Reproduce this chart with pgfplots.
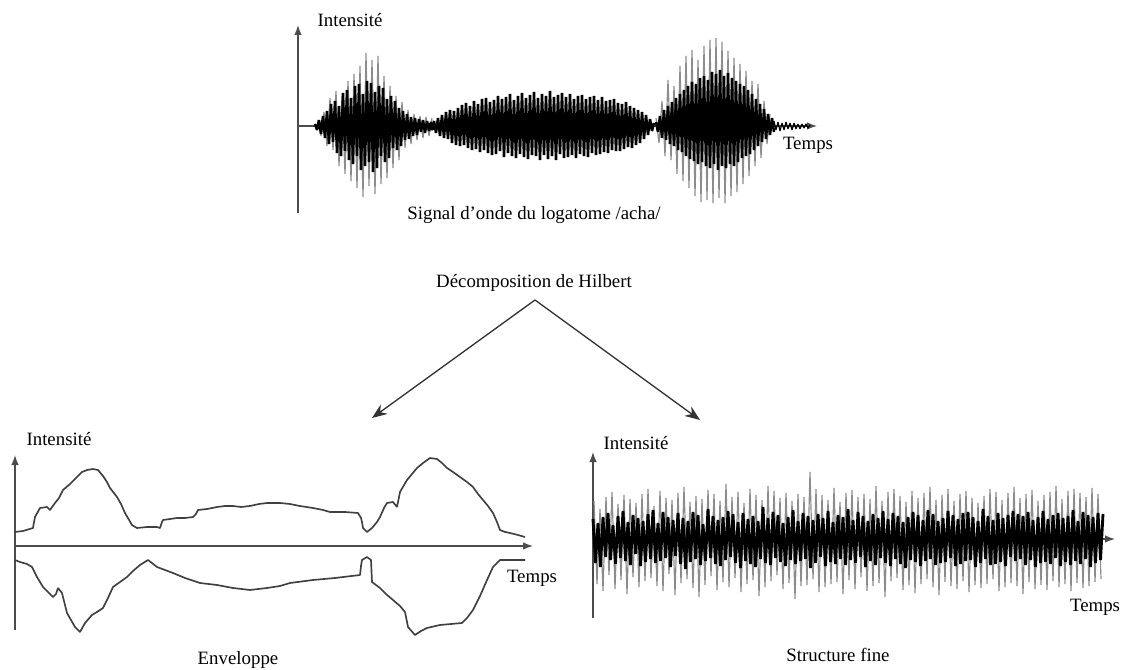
\documentclass[border=0pt]{standalone}
\usepackage{fontspec}
\setmainfont{Liberation Serif}
\usepackage{pgfplots}
\pgfplotsset{compat=1.18}
\usetikzlibrary{arrows.meta}

\pgfplotsset{
  wave/.style={axis lines=middle, x=0.6pt, y=0.6pt, xtick=\empty, ytick=\empty,
    enlargelimits=false, clip=false, anchor=south west,
    axis line style={black!70, line width=0.8pt, -{Latex[length=6pt,width=4.5pt]}}},
  sig/.style={line join=bevel, mark=none},
  grayw/.style={sig, black!45, line width=0.7pt},
  blackw/.style={sig, black, line width=1.5pt},
}

\begin{document}
\begin{tikzpicture}[x=0.6pt, y=0.6pt, font=\fontsize{11.3}{13}\selectfont]
\path[use as bounding box] (0,0) rectangle (1127,670);
\coordinate (P1) at (298,457);
\coordinate (P2) at (15,40);
\coordinate (P3) at (593,52);

% signal d'onde /acha/
\begin{axis}[wave, at={(P1)}, xmin=0, xmax=519, ymin=-87, ymax=101]
% first burst, grey spikes
\addplot[grayw] table[row sep=\\, header=false, x expr={\coordindex*3+20}, y index=0]
{6\\ -10\\ 14\\ -20\\ 28\\ -24\\ 35\\ -40\\ 30\\ -48\\ 45\\ -55\\ 52\\ -62\\ 60\\ -71\\ 73\\ -60\\ 66\\ -68\\ 70\\ -58\\ 50\\ -52\\ 40\\ -42\\ 30\\ -34\\ 24\\ -22\\ 16\\ -18\\ 12\\ -14\\ 10\\ -12\\ 9\\ -10\\ 8\\};
% last burst, grey spikes
\addplot[grayw] table[row sep=\\, header=false, x expr={\coordindex*3+358}, y index=0]
{8\\ -17\\ 25\\ -30\\ 46\\ -34\\ 40\\ -48\\ 60\\ -55\\ 70\\ -62\\ 76\\ -70\\ 66\\ -76\\ 80\\ -74\\ 86\\ -77\\ 88\\ -72\\ 84\\ -77\\ 75\\ -70\\ 68\\ -66\\ 62\\ -58\\ 55\\ -50\\ 45\\ -40\\ 42\\ -32\\ 25\\ -18\\ 12\\};
% first burst, core
\addplot[blackw] table[row sep=\\, header=false, x expr={\coordindex*2+17}, y index=0]
{2\\ -4\\ 6\\ -8\\ 10\\ -12\\ 15\\ -18\\ 22\\ -16\\ 25\\ -27\\ 20\\ -30\\ 33\\ -25\\ 36\\ -34\\ 28\\ -38\\ 40\\ -30\\ 42\\ -44\\ 32\\ -40\\ 45\\ -36\\ 43\\ -46\\ 34\\ -42\\ 40\\ -30\\ 38\\ -36\\ 27\\ -32\\ 30\\ -22\\ 25\\ -24\\ 18\\ -20\\ 15\\ -14\\ 12\\ -13\\ 9\\ -10\\ 8\\ -9\\ 7\\ -6\\ 6\\ -7\\ 5\\ -5\\ 4\\ -4\\};
% /ch/ noise
\addplot[blackw] table[row sep=\\, header=false, x expr={\coordindex*2+132}, y index=0]
{3\\ -4\\ 5\\ -7\\ 8\\ -10\\ 11\\ -12\\ 14\\ -13\\ 16\\ -17\\ 15\\ -19\\ 18\\ -20\\ 21\\ -19\\ 23\\ -22\\ 20\\ -24\\ 25\\ -23\\ 22\\ -26\\ 27\\ -24\\ 28\\ -27\\ 24\\ -29\\ 26\\ -28\\ 30\\ -25\\ 27\\ -31\\ 29\\ -27\\ 32\\ -30\\ 26\\ -32\\ 30\\ -28\\ 33\\ -31\\ 28\\ -33\\ 31\\ -29\\ 34\\ -30\\ 28\\ -34\\ 32\\ -29\\ 30\\ -33\\ 35\\ -30\\ 29\\ -34\\ 31\\ -28\\ 33\\ -32\\ 29\\ -31\\ 32\\ -29\\ 27\\ -32\\ 30\\ -28\\ 31\\ -30\\ 27\\ -31\\ 29\\ -27\\ 30\\ -29\\ 26\\ -28\\ 29\\ -26\\ 25\\ -27\\ 26\\ -24\\ 27\\ -25\\ 23\\ -25\\ 22\\ -23\\ 24\\ -21\\ 20\\ -22\\ 18\\ -19\\ 16\\ -17\\ 14\\ -13\\ 11\\ -9\\ 7\\ -5\\ 3\\};
% last burst, core
\addplot[blackw] table[row sep=\\, header=false, x expr={\coordindex*2+358}, y index=0]
{4\\ -6\\ 10\\ -12\\ 16\\ -14\\ 20\\ -18\\ 24\\ -20\\ 28\\ -24\\ 32\\ -26\\ 36\\ -30\\ 40\\ -33\\ 44\\ -35\\ 42\\ -38\\ 48\\ -36\\ 50\\ -40\\ 46\\ -42\\ 54\\ -38\\ 52\\ -44\\ 56\\ -40\\ 50\\ -42\\ 53\\ -38\\ 48\\ -40\\ 45\\ -36\\ 42\\ -32\\ 40\\ -30\\ 36\\ -28\\ 32\\ -24\\ 27\\ -20\\ 22\\ -16\\ 17\\ -13\\ 12\\ -9\\ 8\\ -6\\};
% tail
\addplot[sig, black, line width=0.7pt] table[row sep=\\, header=false, x expr={\coordindex*2+476}, y index=0]
{5\\ -4\\ 4\\ -5\\ 3\\ -4\\ 4\\ -3\\ 3\\ -4\\ 3\\ -3\\ 2\\ -3\\ 2\\ -2\\ 2\\ -2\\ 1\\};
\end{axis}

% enveloppe
\begin{axis}[wave, at={(P2)}, xmin=0, xmax=518, ymin=-84, ymax=91]
\addplot[sig, black!75, line width=1pt] coordinates {
(0,14) (8,15) (18,18) (19,24) (20,29) (25,38) (32,39) (35,36) (40,43) (44,48) (48,56) (55,62) (62,69) (67,74) (72,76) (78,77) (83,76) (88,70) (92,64) (95,58) (102,49) (106,42) (110,33) (117,21) (122,18) (132,19) (142,19) (145,18) (147,24) (148,26) (155,27) (162,28) (170,28) (178,29) (181,32) (183,36) (192,37) (202,39) (210,40) (218,40) (226,39) (235,40) (244,42) (252,43) (265,43) (275,42) (285,40) (298,38) (308,36) (315,34) (330,34) (343,33) (346,28) (347,24) (348,18) (352,14) (357,18) (362,24) (365,29) (369,38) (372,43) (378,44) (382,39) (385,54) (392,66) (397,72) (402,78) (408,83) (415,88) (422,87) (427,83) (432,78) (438,74) (445,69) (452,64) (458,59) (463,52) (468,46) (473,40) (478,33) (482,24) (485,16) (490,14) (495,13) (503,11) (510,9)};
\addplot[sig, black!75, line width=1pt] coordinates {
(0,-14) (5,-16) (12,-18) (17,-21) (22,-31) (28,-41) (33,-46) (38,-51) (41,-48) (43,-42) (47,-47) (52,-67) (56,-74) (60,-81) (65,-86) (70,-77) (77,-69) (82,-66) (88,-62) (93,-52) (98,-41) (105,-36) (112,-31) (118,-25) (125,-19) (133,-14) (142,-21) (150,-24) (158,-27) (170,-32) (185,-37) (202,-39) (218,-42) (235,-44) (252,-42) (265,-40) (275,-37) (298,-34) (320,-32) (345,-29) (346,-20) (347,-14) (352,-11) (356,-14) (357,-36) (365,-42) (371,-48) (378,-54) (385,-60) (390,-66) (393,-81) (400,-89) (406,-85) (412,-82) (425,-79) (436,-78) (447,-77) (452,-72) (458,-64) (465,-50) (472,-34) (478,-21) (485,-14) (510,-14)};
\end{axis}

% structure fine
\begin{axis}[wave, at={(P3)}, xmin=0, xmax=522, ymin=-79, ymax=87]
\addplot[grayw] table[row sep=\\, header=false, x expr={\coordindex*3+1}, y index=0]
{38\\ -45\\ 30\\ -52\\ 42\\ -36\\ 47\\ -50\\ 35\\ -41\\
44\\ -55\\ 40\\ -38\\ 36\\ -48\\ 45\\ -42\\ 50\\ -39\\
33\\ -47\\ 48\\ -52\\ 41\\ -35\\ 39\\ -56\\ 46\\ -44\\
52\\ -40\\ 37\\ -49\\ 43\\ -58\\ 40\\ -46\\ 49\\ -37\\
45\\ -51\\ 38\\ -43\\ 55\\ -48\\ 42\\ -39\\ 47\\ -53\\
36\\ -45\\ 50\\ -41\\ 44\\ -57\\ 39\\ -48\\ 53\\ -42\\
48\\ -36\\ 41\\ -50\\ 46\\ -44\\ 38\\ -60\\ 45\\ -47\\
42\\ -46\\ 67\\ -40\\ 50\\ -53\\ 44\\ -48\\ 39\\ -45\\
51\\ -43\\ 37\\ -55\\ 46\\ -41\\ 49\\ -50\\ 42\\ -38\\
45\\ -52\\ 40\\ -47\\ 53\\ -44\\ 38\\ -58\\ 47\\ -42\\
50\\ -39\\ 43\\ -51\\ 37\\ -46\\ 48\\ -54\\ 41\\ -45\\
46\\ -40\\ 52\\ -48\\ 39\\ -56\\ 44\\ -43\\ 50\\ -47\\
38\\ -50\\ 45\\ -42\\ 48\\ -53\\ 41\\ -46\\ 36\\ -49\\
43\\ -45\\ 50\\ -40\\ 47\\ -52\\ 39\\ -48\\ 46\\ -44\\
52\\ -47\\ 41\\ -55\\ 45\\ -43\\ 49\\ -50\\ 38\\ -46\\
44\\ -51\\ 47\\ -42\\ 53\\ -48\\ 40\\ -45\\ 48\\ -52\\
50\\ -44\\ 46\\ -49\\ 42\\ -47\\ 51\\ -43\\ 45\\ -40\\};
\addplot[sig, black, line width=1.7pt] table[row sep=\\, header=false, x expr={\coordindex*2.5}, y index=0]
{20\\ -24\\ 16\\ -28\\ 22\\ -18\\ 26\\ -21\\ 14\\ -25\\
23\\ -19\\ 28\\ -22\\ 17\\ -26\\ 24\\ -15\\ 21\\ -27\\
18\\ -23\\ 25\\ -20\\ 29\\ -24\\ 16\\ -22\\ 27\\ -19\\
22\\ -28\\ 19\\ -17\\ 26\\ -25\\ 21\\ -30\\ 18\\ -23\\
27\\ -20\\ 24\\ -26\\ 15\\ -22\\ 30\\ -19\\ 23\\ -25\\
19\\ -27\\ 22\\ -21\\ 28\\ -18\\ 25\\ -24\\ 17\\ -29\\
26\\ -22\\ 20\\ -25\\ 23\\ -28\\ 18\\ -20\\ 32\\ -24\\
21\\ -26\\ 27\\ -19\\ 24\\ -23\\ 16\\ -27\\ 22\\ -21\\
29\\ -25\\ 18\\ -22\\ 26\\ -20\\ 23\\ -29\\ 19\\ -24\\
25\\ -18\\ 21\\ -27\\ 28\\ -23\\ 17\\ -25\\ 24\\ -20\\
22\\ -26\\ 30\\ -21\\ 19\\ -24\\ 27\\ -18\\ 23\\ -28\\
18\\ -22\\ 25\\ -26\\ 21\\ -19\\ 28\\ -24\\ 20\\ -27\\
26\\ -20\\ 23\\ -25\\ 17\\ -29\\ 22\\ -21\\ 27\\ -23\\
24\\ -27\\ 19\\ -22\\ 29\\ -20\\ 25\\ -26\\ 18\\ -24\\
21\\ -23\\ 28\\ -19\\ 24\\ -27\\ 20\\ -25\\ 26\\ -22\\
27\\ -21\\ 22\\ -28\\ 18\\ -24\\ 30\\ -20\\ 23\\ -26\\
19\\ -25\\ 26\\ -23\\ 21\\ -27\\ 24\\ -18\\ 28\\ -22\\
25\\ -20\\ 23\\ -26\\ 27\\ -21\\ 19\\ -28\\ 22\\ -24\\
28\\ -23\\ 20\\ -25\\ 24\\ -19\\ 26\\ -27\\ 21\\ -23\\
23\\ -26\\ 29\\ -22\\ 18\\ -25\\ 27\\ -20\\ 24\\ -28\\
22\\ -24\\ 26\\ -21\\ 25\\};
\end{axis}

% labels
\node[inner sep=0] at (350,650) {Intensité};
\node[inner sep=0] at (808,525) {Temps};
\node[inner sep=0] at (534,455) {Signal d'onde du logatome /acha/};
\node[inner sep=0] at (534,387) {Décomposition de Hilbert};
\node[inner sep=0] at (59,231) {Intensité};
\node[inner sep=0] at (532,92) {Temps};
\node[inner sep=0] at (238,10) {Enveloppe};
\node[inner sep=0] at (636,227) {Intensité};
\node[inner sep=0] at (838,15) {Structure fine};
\node[inner sep=0] at (1095,63) {Temps};

% Hilbert split
\draw[black!80, line width=0.8pt, -{Stealth[length=9pt,width=7pt]}] (535,370) -- (372,252);
\draw[black!80, line width=0.8pt, -{Stealth[length=9pt,width=7pt]}] (535,370) -- (700,250);
\end{tikzpicture}
\end{document}
